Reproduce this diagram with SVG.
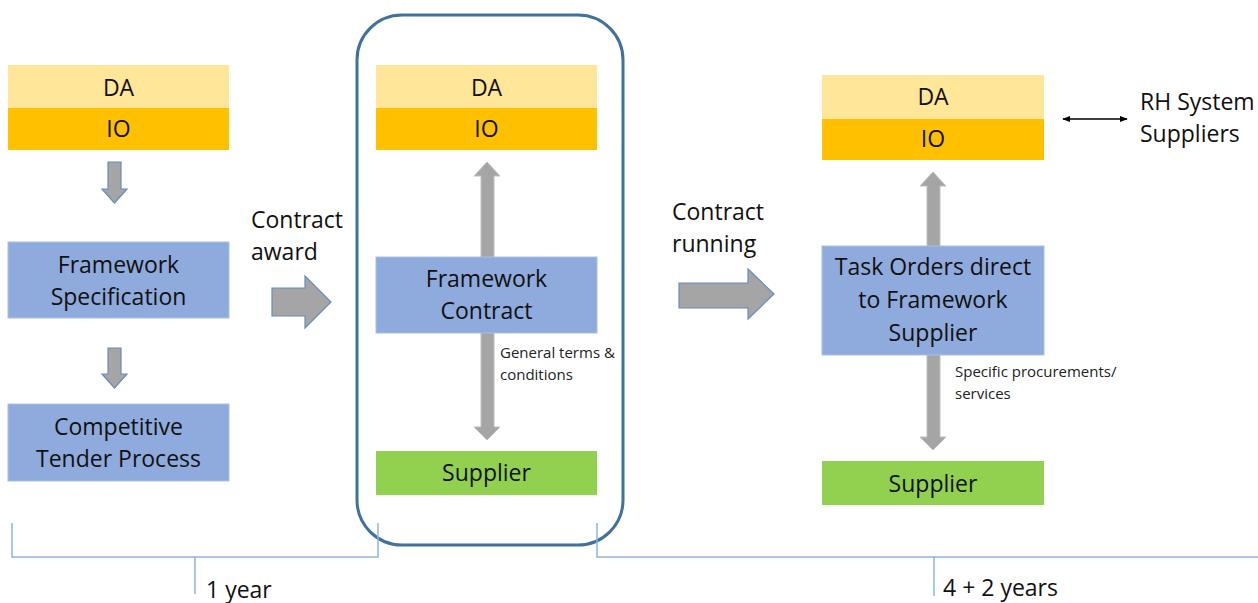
<svg xmlns="http://www.w3.org/2000/svg" width="1258" height="603" viewBox="0 0 1258 603">
  <style>
    .lbl { font-family: "Open Sans", "Liberation Sans", sans-serif; font-size: 23px; fill: #111; text-anchor: middle; }
    .free { font-family: "Open Sans", "Liberation Sans", sans-serif; font-size: 23px; fill: #111; }
    .small { font-family: "Open Sans", "Liberation Sans", sans-serif; font-size: 15px; fill: #222; }
    .da { fill: #FFE699; }
    .io { fill: #FFC000; }
    .blue { fill: #8FAADC; stroke: #A9BFE6; stroke-width: 1; }
    .green { fill: #92D050; }
    .garrow { fill: #A5A5A5; stroke: #BFBFBF; stroke-width: 1; }
    .barrow { fill: #A5A5A5; stroke: #6A8CB8; stroke-width: 1.2; }
    .bracket { fill: none; stroke: #8EB4E3; stroke-width: 1.5; }
  </style>
  <defs>
    <marker id="tip" viewBox="0 0 10 10" refX="9" refY="5" markerWidth="8" markerHeight="8" orient="auto-start-reverse" markerUnits="userSpaceOnUse">
      <path d="M0,1 L10,5 L0,9 Z" fill="#000"/>
    </marker>
  </defs>
  <rect width="1258" height="603" fill="#fff"/>

  <!-- framework phase frame -->
  <rect id="frame" x="357" y="15" width="266" height="530" rx="45" ry="45" fill="none" stroke="#41719C" stroke-width="3"/>

  <!-- connectors -->
  <g id="connectors">
    <polygon class="barrow" points="108,162 121,162 121,189 127,189 114.5,203 102,189 108,189"/>
    <polygon class="barrow" points="108,348 121,348 121,374 127,374 114.5,388 102,374 108,374"/>
    <polygon class="barrow" points="272,288 305,288 305,276 331,302 305,328 305,316 272,316"/>
    <polygon class="barrow" points="679,283 748,283 748,269 774,294 748,319 748,308 679,308"/>
    <polygon class="garrow" points="487,162 500,176 494,176 494,427 500,427 487,440 474,427 481,427 481,176 474,176"/>
    <polygon class="garrow" points="933,172 946,186 940,186 940,437 946,437 933,450 920,437 927,437 927,186 920,186"/>
    <line x1="1063" y1="119" x2="1127" y2="119" stroke="#000" stroke-width="1.3" marker-start="url(#tip)" marker-end="url(#tip)"/>
    <path class="bracket" d="M12,523 V557 H378 V523 M195,557 V594"/>
    <path class="bracket" d="M597,523 V557 H1258 M934,557 V596"/>
  </g>

  <!-- left column -->
  <g id="da-left">
    <rect class="da" x="8" y="65" width="221" height="43"/>
    <text class="lbl" x="118.5" y="96">DA</text>
  </g>
  <g id="io-left">
    <rect class="io" x="8" y="108" width="221" height="42"/>
    <text class="lbl" x="118.5" y="137">IO</text>
  </g>
  <g id="framework-spec">
    <rect class="blue" x="8" y="242" width="221" height="76"/>
    <text class="lbl" x="118.5" y="273">Framework</text>
    <text class="lbl" x="118.5" y="305">Specification</text>
  </g>
  <g id="tender">
    <rect class="blue" x="8" y="404" width="221" height="77"/>
    <text class="lbl" x="118.5" y="435">Competitive</text>
    <text class="lbl" x="118.5" y="467">Tender Process</text>
  </g>

  <!-- middle column -->
  <g id="da-mid">
    <rect class="da" x="376" y="65" width="221" height="43"/>
    <text class="lbl" x="486.5" y="96">DA</text>
  </g>
  <g id="io-mid">
    <rect class="io" x="376" y="108" width="221" height="42"/>
    <text class="lbl" x="486.5" y="137">IO</text>
  </g>
  <g id="framework-contract">
    <rect class="blue" x="376" y="257" width="221" height="76"/>
    <text class="lbl" x="486.5" y="287">Framework</text>
    <text class="lbl" x="486.5" y="319">Contract</text>
  </g>
  <g id="supplier-mid">
    <rect class="green" x="376" y="451" width="221" height="44"/>
    <text class="lbl" x="486.5" y="481">Supplier</text>
  </g>

  <!-- right column -->
  <g id="da-right">
    <rect class="da" x="822" y="75" width="222" height="44"/>
    <text class="lbl" x="933" y="105">DA</text>
  </g>
  <g id="io-right">
    <rect class="io" x="822" y="119" width="222" height="41"/>
    <text class="lbl" x="933" y="147">IO</text>
  </g>
  <g id="task-orders">
    <rect class="blue" x="822" y="246" width="222" height="109"/>
    <text class="lbl" x="933" y="275">Task Orders direct</text>
    <text class="lbl" x="933" y="308">to Framework</text>
    <text class="lbl" x="933" y="341">Supplier</text>
  </g>
  <g id="supplier-right">
    <rect class="green" x="822" y="461" width="222" height="44"/>
    <text class="lbl" x="933" y="492">Supplier</text>
  </g>

  <!-- free labels -->
  <g id="labels">
    <text class="free" x="251" y="228">Contract</text>
    <text class="free" x="251" y="260">award</text>
    <text class="free" x="672" y="220">Contract</text>
    <text class="free" x="672" y="252">running</text>
    <text class="free" x="1140" y="110">RH System</text>
    <text class="free" x="1140" y="142">Suppliers</text>
    <text class="small" x="500" y="358">General terms &amp;</text>
    <text class="small" x="500" y="380">conditions</text>
    <text class="small" x="955" y="377">Specific procurements/</text>
    <text class="small" x="955" y="399">services</text>
    <text class="free" x="206" y="598">1 year</text>
    <text class="free" x="943" y="596">4 + 2 years</text>
  </g>
</svg>
